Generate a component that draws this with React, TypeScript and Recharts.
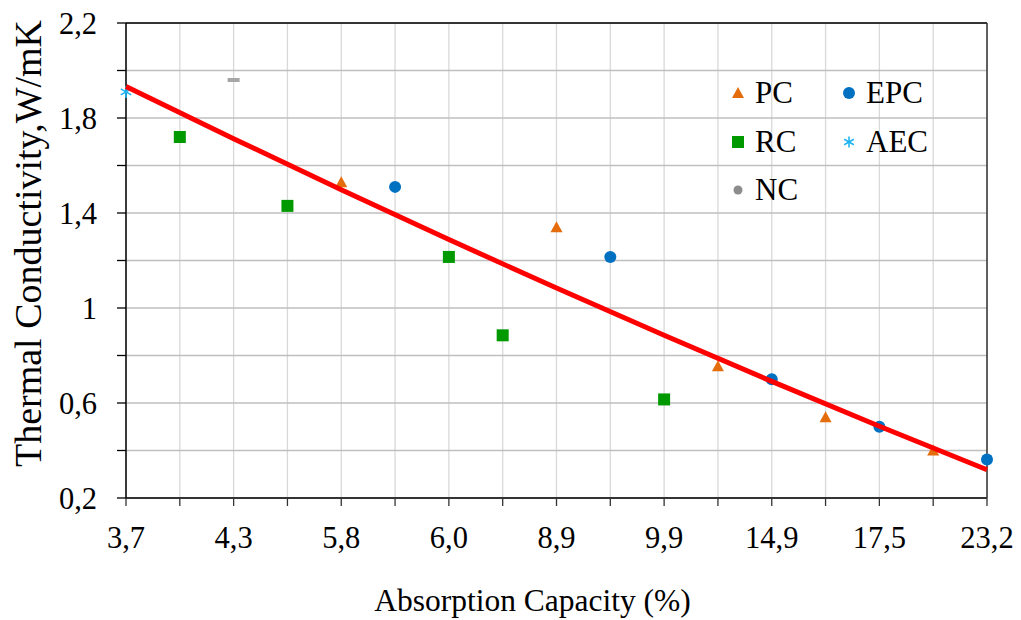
import React from 'react';
import {
  ScatterChart,
  Scatter,
  XAxis,
  YAxis,
  CartesianGrid,
  ReferenceLine,
  Label,
} from 'recharts';

// Category tick labels (every second position along the x axis)
const xTickLabels = ['3,7', '4,3', '5,8', '6,0', '8,9', '9,9', '14,9', '17,5', '23,2'];
const xTickPositions = [0, 1, 2, 3, 4, 5, 6, 7, 8, 9, 10, 11, 12, 13, 14, 15, 16];
const yTickValues = [0.2, 0.4, 0.6, 0.8, 1.0, 1.2, 1.4, 1.6, 1.8, 2.0, 2.2];
const yTickLabels = ['0,2', '', '0,6', '', '1', '', '1,4', '', '1,8', '', '2,2'];

// Series (x = position index along the axis, y = thermal conductivity)
const pcX = [4, 8, 11, 13, 15];
const pcY = [1.53, 1.34, 0.755, 0.54, 0.4];
const epcX = [5, 9, 12, 14, 16];
const epcY = [1.51, 1.215, 0.7, 0.5, 0.362];
const rcX = [1, 3, 6, 7, 10];
const rcY = [1.72, 1.43, 1.215, 0.885, 0.615];
const aecX = [0];
const aecY = [1.91];
const ncX = [2];
const ncY = [1.96];
// Trend curve at every second position
const trendX = [0, 2, 4, 6, 8, 10, 12, 14, 16];
const trendY = [1.933, 1.713, 1.498, 1.288, 1.084, 0.885, 0.691, 0.502, 0.319];

const legendNames = ['PC', 'EPC', 'RC', 'AEC', 'NC'];

const zip = (xs: number[], ys: number[]) => xs.map((x, i) => ({ x, y: ys[i] }));

const FONT = "'Liberation Serif', 'Times New Roman', 'DejaVu Serif', serif";
const C_PC = '#E46C0A';
const C_EPC = '#0070C0';
const C_RC = '#009A00';
const C_AEC = '#1FB4F0';
const C_NC = '#A6A6A6';
const C_NC_LEG = '#8C8C8C';

const Triangle = (p: any) => {
  const { cx, cy } = p;
  return <polygon points={`${cx},${cy - 6} ${cx + 6},${cy + 5} ${cx - 6},${cy + 5}`} fill={C_PC} />;
};
const Dot = (p: any) => <circle cx={p.cx} cy={p.cy} r={6} fill={C_EPC} />;
const Square = (p: any) => <rect x={p.cx - 6} y={p.cy - 6} width={12} height={12} fill={C_RC} />;
const Star = (p: any) => {
  const { cx, cy } = p;
  const r = 6;
  return (
    <g stroke={C_AEC} strokeWidth={1.7}>
      <line x1={cx} y1={cy - r} x2={cx} y2={cy + r} />
      <line x1={cx - r * 0.87} y1={cy - r * 0.5} x2={cx + r * 0.87} y2={cy + r * 0.5} />
      <line x1={cx - r * 0.87} y1={cy + r * 0.5} x2={cx + r * 0.87} y2={cy - r * 0.5} />
    </g>
  );
};
const Dash = (p: any) => <rect x={p.cx - 6} y={p.cy - 2} width={12} height={4} fill={C_NC} />;
const NoShape = () => <g />;

const legendMarker = (name: string) => {
  switch (name) {
    case 'PC':
      return <polygon points="13,9 19,20 7,20" fill={C_PC} />;
    case 'EPC':
      return <circle cx={13} cy={15} r={6} fill={C_EPC} />;
    case 'RC':
      return <rect x={7} y={9} width={12} height={12} fill={C_RC} />;
    case 'AEC':
      return (
        <g stroke={C_AEC} strokeWidth={1.6}>
          <line x1={13} y1={9.5} x2={13} y2={20.5} />
          <line x1={8.2} y1={12.2} x2={17.8} y2={17.8} />
          <line x1={8.2} y1={17.8} x2={17.8} y2={12.2} />
        </g>
      );
    default:
      return <circle cx={13} cy={15} r={4.5} fill={C_NC_LEG} />;
  }
};

const LegendBox = () => (
  <div
    style={{
      position: 'absolute',
      left: 725,
      top: 69,
      width: 230,
      display: 'grid',
      gridTemplateColumns: '111px 119px',
      gridAutoRows: '48.5px',
      fontFamily: FONT,
      fontSize: 31,
      color: '#000',
    }}
  >
    {legendNames.map((n) => (
      <div key={n} style={{ display: 'flex', alignItems: 'center', height: 48.5 }}>
        <svg width={30} height={30} style={{ flex: 'none' }}>
          {legendMarker(n)}
        </svg>
        <span style={{ lineHeight: '48px' }}>{n}</span>
      </div>
    ))}
  </div>
);

const xFmt = (v: number) => (v % 2 === 0 ? xTickLabels[v / 2] : '');
const yFmt = (v: number) => {
  const i = Math.round((v - 0.2) / 0.2);
  return yTickLabels[i] ?? '';
};

export default function App() {
  return (
    <div
      className="chartbox"
      style={{ position: 'absolute', left: 0, top: 0, width: 1021, height: 620, background: '#fff', fontFamily: FONT }}
    >
      <style>{`.chartbox text, .chartbox tspan { font-family: 'Liberation Serif', 'Times New Roman', serif !important; }`}</style>
      <ScatterChart width={1021} height={620} margin={{ top: 23, right: 34, bottom: 0, left: 0 }}>
        <CartesianGrid horizontal={false} vertical stroke="#D9D9D9" strokeWidth={1.3} />
        <CartesianGrid horizontal vertical={false} stroke="#BFBFBF" strokeWidth={1.5} />
        <XAxis
          type="number"
          dataKey="x"
          domain={[0, 16]}
          ticks={xTickPositions}
          interval={0}
          tickFormatter={xFmt}
          height={122}
          tickSize={8}
          tickMargin={20}
          axisLine={{ stroke: '#333', strokeWidth: 2 }}
          tickLine={{ stroke: '#333', strokeWidth: 1.3 }}
          tick={{ fill: '#000', fontSize: 30.5, fontFamily: FONT }}
        >
          <Label
            content={(props: any) => {
              const vb = props.viewBox || { x: 126, width: 861, y: 498, height: 122 };
              return (
                <text
                  x={vb.x + vb.width / 2 - 24}
                  y={611}
                  textAnchor="middle"
                  fontSize={31.5}
                  fontFamily={FONT}
                  fill="#000"
                >
                  Absorption Capacity (%)
                </text>
              );
            }}
          />
        </XAxis>
        <YAxis
          type="number"
          dataKey="y"
          domain={[0.2, 2.2]}
          ticks={yTickValues}
          interval={0}
          tickFormatter={yFmt}
          width={126}
          tickSize={9}
          tickMargin={20}
          axisLine={{ stroke: '#000', strokeWidth: 1.5 }}
          tickLine={{ stroke: '#000', strokeWidth: 1.3 }}
          tick={{ fill: '#000', fontSize: 30.5, fontFamily: FONT }}
        >
          <Label
            content={() => (
              <text
                x={41}
                y={243.5}
                transform="rotate(-90 41 243.5)"
                textAnchor="middle"
                fontSize={38}
                fontFamily={FONT}
                fill="#000"
              >
                Thermal Conductivity,W/mK
              </text>
            )}
          />
        </YAxis>
        <ReferenceLine y={2.2} stroke="#000" strokeWidth={1.5} />
        <ReferenceLine x={16} stroke="#333" strokeWidth={1.5} />
        <Scatter name="RC" data={zip(rcX, rcY)} shape={Square} isAnimationActive={false} />
        <Scatter name="PC" data={zip(pcX, pcY)} shape={Triangle} isAnimationActive={false} />
        <Scatter name="EPC" data={zip(epcX, epcY)} shape={Dot} isAnimationActive={false} />
        <Scatter name="AEC" data={zip(aecX, aecY)} shape={Star} isAnimationActive={false} />
        <Scatter name="NC" data={zip(ncX, ncY)} shape={Dash} isAnimationActive={false} />
        <Scatter
          name="trend"
          data={zip(trendX, trendY)}
          shape={NoShape}
          line={{ stroke: '#FF0000', strokeWidth: 5 }}
          isAnimationActive={false}
        />
      </ScatterChart>
      <LegendBox />
    </div>
  );
}
